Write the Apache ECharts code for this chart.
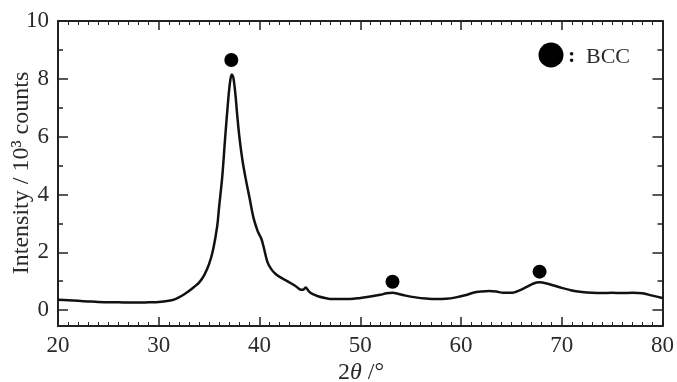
<!DOCTYPE html>
<html>
<head>
<meta charset="utf-8">
<script src="https://cdn.jsdelivr.net/npm/echarts@6/dist/echarts.min.js"></script>
<style>html,body{margin:0;padding:0;background:#fff;}#c{width:677px;height:382px;}</style>
</head>
<body>
<div id="c"></div>
<script>
var twoTheta = [20,21,22,23,24,25,26,27,28,29,30,31,31.5,32,32.5,33,33.5,34,34.5,35,35.4,35.8,36.0,36.3,36.6,36.9,37.1,37.25,37.4,37.6,37.8,38.0,38.3,38.6,39.0,39.4,39.8,40.0,40.2,40.4,40.8,41.2,41.6,42,42.5,43,43.5,44,44.3,44.6,44.9,45.3,45.8,46.5,47.2,48,49,50,51,52,52.6,53.2,53.8,54.5,55.5,56.5,57.5,58.5,59.5,60.5,61.2,62,62.8,63.5,64.2,65,65.8,66.5,67.2,67.8,68.4,69.2,70,71,72,73,74,75,76,77,78,79,80];
var intensity = [0.36,0.34,0.32,0.30,0.28,0.27,0.27,0.26,0.26,0.27,0.28,0.32,0.36,0.44,0.54,0.66,0.80,0.95,1.2,1.6,2.1,2.9,3.6,4.6,6.0,7.3,7.95,8.15,8.05,7.5,6.7,6.0,5.2,4.6,3.9,3.2,2.75,2.6,2.45,2.2,1.65,1.4,1.25,1.15,1.05,0.95,0.85,0.72,0.70,0.78,0.65,0.55,0.48,0.42,0.38,0.38,0.38,0.42,0.47,0.53,0.58,0.60,0.56,0.50,0.44,0.40,0.38,0.39,0.44,0.52,0.60,0.64,0.66,0.64,0.60,0.60,0.68,0.80,0.92,0.96,0.93,0.85,0.77,0.68,0.63,0.60,0.59,0.60,0.59,0.60,0.58,0.50,0.42];
var bccX = [37.2, 53.2, 67.8];
var bccY = [8.65, 0.98, 1.33];
var yMajor = [0, 2, 4, 6, 8, 10];
var yMinor = [1, 3, 5, 7, 9];
var xTicks = [20, 30, 40, 50, 60, 70, 80];

var FONT = '"Liberation Serif", "DejaVu Serif", serif';
var AX = '#222';
var line = intensity.map(function (v, i) { return [twoTheta[i], v]; });
var marks = bccY.map(function (v, i) { return [bccX[i], v]; });

function xAx(pos, labels) {
  return {
    type: 'value', position: pos, min: xTicks[0], max: xTicks[xTicks.length - 1], interval: 10,
    axisLine: { show: true, onZero: false, lineStyle: { color: AX, width: 2 } },
    axisTick: { show: true, inside: true, length: 9, lineStyle: { color: AX, width: 1.5 } },
    minorTick: { show: true, splitNumber: 10, length: 4, lineStyle: { color: AX, width: 1 } },
    axisLabel: { show: labels, margin: 8, color: '#2a2a2a', fontFamily: FONT, fontSize: 23 },
    splitLine: { show: false }, minorSplitLine: { show: false }
  };
}
function yAx(pos, vals, len, labels, lineShow) {
  return {
    type: 'value', position: pos, min: -0.55, max: 10,
    axisLine: { show: lineShow, onZero: false, lineStyle: { color: AX, width: 2 } },
    axisTick: { show: true, inside: true, length: len, customValues: vals, lineStyle: { color: AX, width: 1.5 } },
    axisLabel: { show: labels, customValues: yMajor, margin: 9, color: '#2a2a2a', fontFamily: FONT, fontSize: 23 },
    splitLine: { show: false }
  };
}

var chart = echarts.init(document.getElementById('c'), null, { renderer: 'canvas' });
chart.setOption({
  animation: false,
  backgroundColor: '#fff',
  grid: { left: 58, right: 13, top: 21, bottom: 56 },
  xAxis: [xAx('bottom', true), xAx('top', false)],
  yAxis: [
    yAx('left', yMajor, 10, true, true),
    yAx('left', yMinor, 5, false, false),
    yAx('right', yMajor, 10, false, true),
    yAx('right', yMinor, 5, false, false)
  ],
  series: [
    { type: 'line', data: line, xAxisIndex: 0, yAxisIndex: 0, showSymbol: false, smooth: 0.3,
      lineStyle: { color: '#111', width: 2.5 } },
    { type: 'scatter', data: marks, xAxisIndex: 0, yAxisIndex: 0, symbol: 'circle', symbolSize: 14,
      itemStyle: { color: '#000', opacity: 1 } }
  ],
  graphic: [
    { type: 'circle', shape: { cx: 551, cy: 55, r: 12.5 }, style: { fill: '#000' } },
    { type: 'text', x: 568, y: 56, style: { text: ':', font: 'bold 22px ' + FONT, fill: '#111', textVerticalAlign: 'middle' } },
    { type: 'text', x: 586, y: 57, style: { text: 'BCC', font: '22px ' + FONT, fill: '#2a2a2a', textVerticalAlign: 'middle' } },
    { type: 'text', x: 22, y: 173, rotation: Math.PI / 2,
      style: { text: 'Intensity / 10³ counts', font: '24px ' + FONT, fill: '#2a2a2a', textAlign: 'center', textVerticalAlign: 'middle' } },
    { type: 'text', x: 338, y: 373,
      style: { rich: { a: { font: '24px ' + FONT, fill: '#2a2a2a' }, i: { font: 'italic 24px ' + FONT, fill: '#2a2a2a' } },
               text: '{a|2}{i|θ}{a| /°}', textVerticalAlign: 'middle' } }
  ]
});
</script>
</body>
</html>
